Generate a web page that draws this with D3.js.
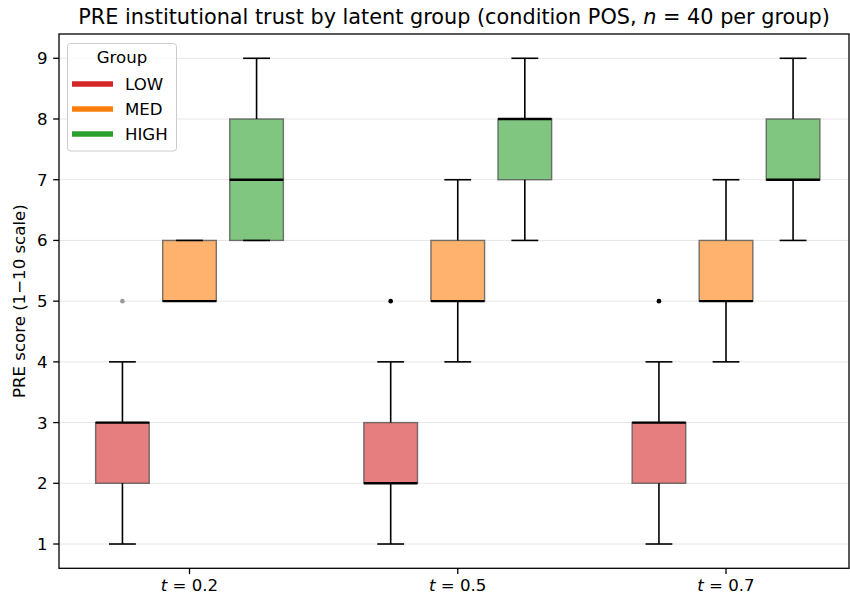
<!DOCTYPE html>
<html>
<head>
<meta charset="utf-8">
<script src="https://cdn.jsdelivr.net/npm/d3@7"></script>
<style>
  body { margin: 0; background: #fff; }
  svg { display: block; font-family: "DejaVu Sans", sans-serif; }
</style>
</head>
<body>
<svg id="chart" width="850" height="599"></svg>
<script>
// ---- Data ----
const conditions = ["0.2", "0.5", "0.7"];
const groups = ["LOW", "MED", "HIGH"];
const groupColors = ["#d62728", "#ff7f0e", "#2ca02c"];
// [whiskerLow, q1, median, q3, whiskerHigh] per condition
const lowStats  = [[1, 2, 3, 3, 4], [1, 2, 2, 3, 4], [1, 2, 3, 3, 4]];
const medStats  = [[5, 5, 5, 6, 6], [4, 5, 5, 6, 7], [4, 5, 5, 6, 7]];
const highStats = [[6, 6, 7, 8, 9], [6, 7, 8, 8, 9], [6, 7, 7, 8, 9]];
const lowOutliers  = [[5], [5], [5]];
const medOutliers  = [[], [], []];
const highOutliers = [[], [], []];
const yTicks = [1, 2, 3, 4, 5, 6, 7, 8, 9];

const statsByGroup = [lowStats, medStats, highStats];
const outliersByGroup = [lowOutliers, medOutliers, highOutliers];

// ---- Layout ----
const svg = d3.select("#chart");
const L = 59, R = 849, T = 34, B = 568.3;
const FS = 16.6;

const x = d3.scaleLinear().domain([-0.4865, 2.4585]).range([L, R]);
const y = d3.scaleLinear().domain([0.6, 9.4]).range([B, T]);
const offset = 0.25, boxW = 0.2, capW = 0.1;

// Grid
svg.append("g").selectAll("line").data(yTicks).join("line")
  .attr("x1", L).attr("x2", R)
  .attr("y1", d => y(d)).attr("y2", d => y(d))
  .attr("stroke", "#e6e6e6").attr("stroke-width", 1);

// Build box records
const boxes = [];
groups.forEach((g, gi) => {
  conditions.forEach((c, ci) => {
    const s = statsByGroup[gi][ci];
    boxes.push({ gi, ci, pos: ci + (gi - 1) * offset,
      wl: s[0], q1: s[1], med: s[2], q3: s[3], wh: s[4],
      out: outliersByGroup[gi][ci] });
  });
});

const gBox = svg.append("g");
boxes.forEach(b => {
  const x0 = x(b.pos - boxW / 2), x1 = x(b.pos + boxW / 2);
  const cx = x(b.pos);
  const cx0 = x(b.pos - capW / 2), cx1 = x(b.pos + capW / 2);
  gBox.append("rect")
    .attr("x", x0).attr("y", y(b.q3))
    .attr("width", x1 - x0).attr("height", y(b.q1) - y(b.q3))
    .attr("fill", groupColors[b.gi]).attr("fill-opacity", 0.6)
    .attr("stroke", "#555").attr("stroke-opacity", 0.8).attr("stroke-width", 1.4);
  gBox.append("line").attr("x1", cx).attr("x2", cx)
    .attr("y1", y(b.q1)).attr("y2", y(b.wl))
    .attr("stroke", "#000").attr("stroke-width", 1.6);
  gBox.append("line").attr("x1", cx).attr("x2", cx)
    .attr("y1", y(b.q3)).attr("y2", y(b.wh))
    .attr("stroke", "#000").attr("stroke-width", 1.6);
  [b.wl, b.wh].forEach(v => {
    gBox.append("line").attr("x1", cx0).attr("x2", cx1)
      .attr("y1", y(v)).attr("y2", y(v))
      .attr("stroke", "#000").attr("stroke-width", 1.6);
  });
  gBox.append("line").attr("x1", x0).attr("x2", x1)
    .attr("y1", y(b.med)).attr("y2", y(b.med))
    .attr("stroke", "#000").attr("stroke-width", 2.4);
  b.out.forEach(v => {
    gBox.append("circle").attr("cx", cx).attr("cy", y(v)).attr("r", 2.3)
      .attr("fill", b.ci === 0 ? "#999" : "#000")
      .attr("stroke", "none");
  });
});

// Spines
svg.append("rect").attr("x", L).attr("y", T).attr("width", R - L).attr("height", B - T)
  .attr("fill", "none").attr("stroke", "#000").attr("stroke-width", 1.3);

// Y axis ticks
const yAx = svg.append("g");
yTicks.forEach(v => {
  yAx.append("line").attr("x1", L - 5.8).attr("x2", L).attr("y1", y(v)).attr("y2", y(v))
    .attr("stroke", "#000").attr("stroke-width", 1.3);
  yAx.append("text").attr("x", L - 11.5).attr("y", y(v)).attr("dy", "0.36em")
    .attr("text-anchor", "end").attr("font-size", FS).text(v);
});

// X axis ticks
const xAx = svg.append("g");
conditions.forEach((c, ci) => {
  xAx.append("line").attr("x1", x(ci)).attr("x2", x(ci)).attr("y1", B).attr("y2", B + 5.8)
    .attr("stroke", "#000").attr("stroke-width", 1.3);
  const t = xAx.append("text").attr("x", x(ci)).attr("y", B + 23)
    .attr("text-anchor", "middle").attr("font-size", FS);
  t.append("tspan").attr("font-style", "italic").text("t");
  t.append("tspan").text(" = " + c);
});

// Y label
svg.append("text").attr("transform", `translate(25,${(T + B) / 2}) rotate(-90)`)
  .attr("text-anchor", "middle").attr("font-size", FS).text("PRE score (1−10 scale)");

// Title
const title = svg.append("text").attr("x", (L + R) / 2).attr("y", 24)
  .attr("text-anchor", "middle").attr("font-size", 20.8);
title.append("tspan").text("PRE institutional trust by latent group (condition POS, ");
title.append("tspan").attr("font-style", "italic").text("n");
title.append("tspan").text(" = 40 per group)");

// Legend
const lg = svg.append("g");
lg.append("rect").attr("x", 67.5).attr("y", 43.5).attr("width", 109).attr("height", 107.5)
  .attr("rx", 3).attr("fill", "#fff").attr("fill-opacity", 0.8)
  .attr("stroke", "#ccc").attr("stroke-width", 1);
lg.append("text").attr("x", 122).attr("y", 57).attr("dy", "0.36em").attr("text-anchor", "middle")
  .attr("font-size", FS).text("Group");
groups.forEach((g, gi) => {
  const yy = 84 + gi * 25;
  lg.append("line").attr("x1", 72).attr("x2", 113).attr("y1", yy).attr("y2", yy)
    .attr("stroke", groupColors[gi]).attr("stroke-width", 5.5);
  lg.append("text").attr("x", 125).attr("y", yy).attr("dy", "0.36em")
    .attr("font-size", FS).text(g);
});
</script>
</body>
</html>
